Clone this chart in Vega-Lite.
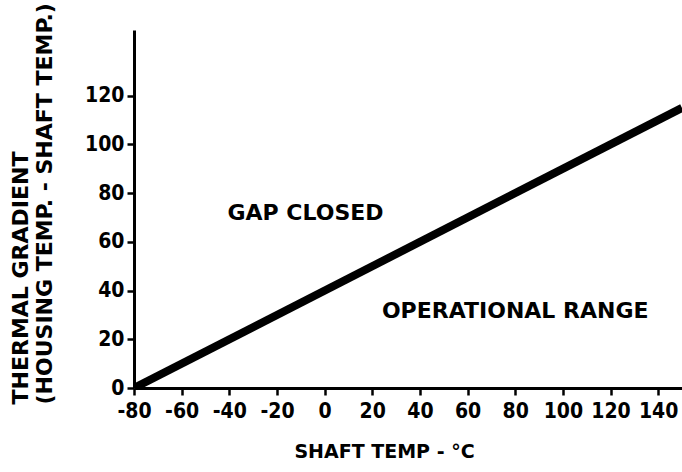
{
  "$schema": "https://vega.github.io/schema/vega-lite/v6.json",
  "width": 548,
  "height": 358,
  "autosize": {"type": "none"},
  "padding": {"left": 134, "top": 30, "right": 0, "bottom": 84},
  "background": "white",
  "config": {
    "view": {"stroke": null},
    "axis": {
      "grid": false,
      "domainColor": "black",
      "domainWidth": 3,
      "tickColor": "black",
      "tickWidth": 2.5,
      "tickSize": 7,
      "labelColor": "black",
      "labelFont": "Liberation Sans Narrow, DejaVu Sans Condensed, DejaVu Sans",
      "labelFontWeight": "bold",
      "labelFontSize": 21,
      "titleColor": "black",
      "titleFont": "DejaVu Sans",
      "titleFontWeight": "bold"
    }
  },
  "layer": [
    {
      "data": {"values": [{"temp": -80, "gradient": 0}, {"temp": 150, "gradient": 115}]},
      "mark": {"type": "line", "color": "black", "strokeWidth": 8, "clip": true},
      "encoding": {
        "x": {
          "field": "temp", "type": "quantitative",
          "scale": {"domain": [-80, 150], "nice": false, "zero": false},
          "axis": {
            "values": [-80, -60, -40, -20, 0, 20, 40, 60, 80, 100, 120, 140],
            "labelExpr": "replace(datum.label, '−', '-')",
            "title": "SHAFT TEMP - °C",
            "titleFontSize": 19,
            "titleX": 250,
            "titleY": 63,
            "titleAlign": "center",
            "titleBaseline": "middle",
            "labelPadding": 5,
            "labelFlush": false
          }
        },
        "y": {
          "field": "gradient", "type": "quantitative",
          "scale": {"domain": [0, 147], "nice": false},
          "axis": {
            "values": [0, 20, 40, 60, 80, 100, 120],
            "title": ["THERMAL GRADIENT", "(HOUSING TEMP. - SHAFT TEMP.)"],
            "titleFontSize": 22,
            "titleAngle": -90,
            "titleAlign": "left",
            "titleBaseline": "top",
            "titleX": -124,
            "titleY": 374,
            "titleLineHeight": 24,
            "labelPadding": 3,
            "labelFlush": false
          }
        }
      }
    },
    {
      "data": {"values": [
        {"temp": -8, "gradient": 72, "label": "GAP CLOSED"},
        {"temp": 80, "gradient": 31.5, "label": "OPERATIONAL RANGE"}
      ]},
      "mark": {"type": "text", "font": "DejaVu Sans", "fontWeight": "bold", "fontSize": 22, "color": "black"},
      "encoding": {
        "x": {"field": "temp", "type": "quantitative"},
        "y": {"field": "gradient", "type": "quantitative"},
        "text": {"field": "label"}
      }
    }
  ]
}
